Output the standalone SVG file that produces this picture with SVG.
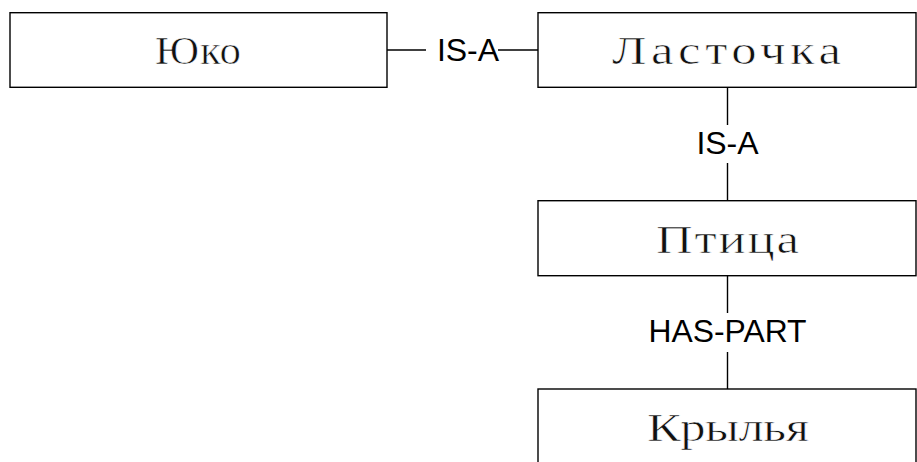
<svg xmlns="http://www.w3.org/2000/svg" width="917" height="462" viewBox="0 0 917 462">
  <style>
    .box { fill: #ffffff; stroke: #000000; stroke-width: 1.4; }
    .name { font-family: "Liberation Serif", "Times New Roman", serif; font-size: 39px; fill: #111111; stroke: #ffffff; stroke-width: 0.6px; paint-order: fill; }
    .rel { font-family: "Liberation Sans", Arial, sans-serif; font-size: 32px; fill: #000000; text-anchor: middle; }
    .edge { stroke: #000000; stroke-width: 1.4; fill: none; }
  </style>
  <rect x="0" y="0" width="917" height="462" fill="#ffffff"/>

  <!-- relations -->
  <g id="connectors">
    <line class="edge" x1="387" y1="50" x2="426" y2="50"/>
    <line class="edge" x1="498" y1="50" x2="538" y2="50"/>
    <text class="rel" x="468" y="61">IS-A</text>

    <line class="edge" x1="727.5" y1="88" x2="727.5" y2="125"/>
    <line class="edge" x1="727.5" y1="163" x2="727.5" y2="200"/>
    <text class="rel" x="727.5" y="154">IS-A</text>

    <line class="edge" x1="727.5" y1="276" x2="727.5" y2="313"/>
    <line class="edge" x1="727.5" y1="352" x2="727.5" y2="389"/>
    <text class="rel" x="727.5" y="342" textLength="158" lengthAdjust="spacingAndGlyphs">HAS-PART</text>
  </g>

  <!-- concept nodes: names widened slightly, then spaced to a typewriter pitch -->
  <g id="yuko">
    <rect class="box" x="10" y="12.7" width="377" height="74.6"/>
    <g transform="translate(155 64) scale(1.1 1)">
      <text class="name" x="0" y="0" textLength="78.2" lengthAdjust="spacing">Юко</text>
    </g>
  </g>

  <g id="lastochka">
    <rect class="box" x="538" y="12.7" width="378" height="74.6"/>
    <g transform="translate(612 63.5) scale(1.3 1)">
      <text class="name" x="0" y="0" textLength="176.2" lengthAdjust="spacing">Ласточка</text>
    </g>
  </g>

  <g id="ptica">
    <rect class="box" x="538" y="200.7" width="378" height="75"/>
    <g transform="translate(656 252.7) scale(1.3 1)">
      <text class="name" x="0" y="0" textLength="110" lengthAdjust="spacing">Птица</text>
    </g>
  </g>

  <g id="krylya">
    <rect class="box" x="538" y="389" width="378" height="75"/>
    <g transform="translate(647 440.5) scale(1.3 1)">
      <text class="name" x="0" y="0" textLength="124.6" lengthAdjust="spacing">Крылья</text>
    </g>
  </g>
</svg>
